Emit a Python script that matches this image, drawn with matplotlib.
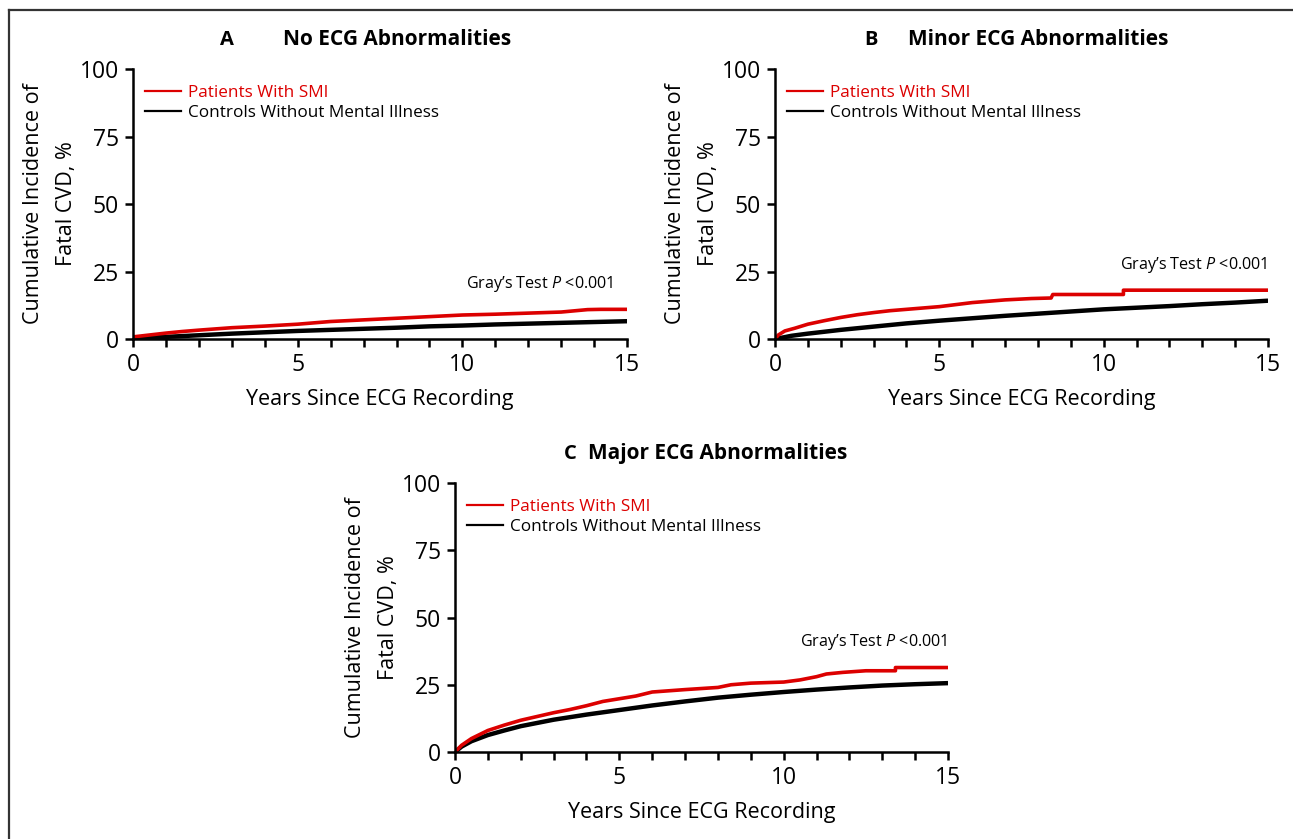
import matplotlib
matplotlib.use("Agg")
import matplotlib.pyplot as plt
from matplotlib.lines import Line2D

plt.rcParams.update({
    "font.family": ["Open Sans", "DejaVu Sans"],
    "mathtext.fontset": "custom",
    "mathtext.it": "Open Sans:italic",
    "mathtext.rm": "Open Sans",
})

RED = "#dc0000"
INK = "#000000"

# panel A: no ECG abnormalities  (years, cumulative incidence %)
a_smi_t = [0, 0.5, 1, 1.5, 2, 3, 4, 5, 6, 7, 8, 9, 10, 11, 12, 13, 13.8, 14.2, 15]
a_smi_y = [0.8, 1.5, 2.2, 2.8, 3.3, 4.2, 4.8, 5.5, 6.5, 7.1, 7.7, 8.3, 8.9, 9.2, 9.6, 10.0, 10.9, 11.0, 11.0]
a_ctl_t = [0, 1, 2, 3, 4, 5, 6, 7, 8, 9, 10, 11, 12, 13, 14, 15]
a_ctl_y = [0.3, 0.8, 1.4, 2.0, 2.5, 3.0, 3.4, 3.8, 4.2, 4.7, 5.0, 5.4, 5.7, 6.0, 6.3, 6.6]

# panel B: minor ECG abnormalities (repeated x = vertical jump)
b_smi_t = [0, 0.1, 0.3, 0.6, 1.0, 1.5, 2.0, 2.5, 3.0, 3.5, 4.0, 5.0, 6.0, 7.0, 7.8, 8.4, 8.45, 10.6, 10.6, 15]
b_smi_y = [0, 1.5, 3.0, 4.0, 5.5, 6.8, 8.0, 9.0, 9.8, 10.5, 11.0, 12.0, 13.5, 14.5, 15.0, 15.2, 16.5, 16.5, 18.1, 18.1]
b_ctl_t = [0, 0.5, 1, 2, 3, 4, 5, 6, 7, 8, 9, 10, 11, 12, 13, 14, 15]
b_ctl_y = [0, 1.2, 2.0, 3.4, 4.6, 5.8, 6.8, 7.7, 8.6, 9.4, 10.2, 11.0, 11.6, 12.2, 12.9, 13.5, 14.2]

# panel C: major ECG abnormalities
c_smi_t = [0, 0.2, 0.5, 1.0, 1.5, 2.0, 2.5, 3.0, 3.5, 4.0, 4.5, 5.0, 5.5, 6.0, 7.0, 8.0, 8.4, 9.0, 10.0,
           10.5, 11.0, 11.3, 11.8, 12.5, 13.4, 13.4, 15]
c_smi_y = [0, 2.5, 5.0, 8.0, 10.0, 11.8, 13.2, 14.6, 15.8, 17.2, 18.8, 19.8, 20.8, 22.3, 23.2, 24.0, 25.0, 25.6, 26.0,
           26.8, 28.0, 29.0, 29.6, 30.2, 30.2, 31.4, 31.4]
c_ctl_t = [0, 0.2, 0.5, 1, 1.5, 2, 3, 4, 5, 6, 7, 8, 9, 10, 11, 12, 13, 14, 15]
c_ctl_y = [0, 2.0, 4.0, 6.3, 8.0, 9.6, 12.0, 13.9, 15.6, 17.3, 18.8, 20.2, 21.3, 22.3, 23.2, 24.0, 24.7, 25.2, 25.6]

PANELS = [
    # (rect, letter, title, smi, ctl, p-text position, letter x, title x) -- x in figure px
    ([0.1029, 0.5959, 0.3821, 0.3218], "A", "No ECG Abnormalities",
     (a_smi_t, a_smi_y), (a_ctl_t, a_ctl_y), (14.6, 20.4), 227, 283),
    ([0.5994, 0.5959, 0.3813, 0.3218], "B", "Minor ECG Abnormalities",
     (b_smi_t, b_smi_y), (b_ctl_t, b_ctl_y), (15.0, 27.4), 871, 908),
    ([0.3519, 0.1037, 0.3813, 0.3206], "C", "Major ECG Abnormalities",
     (c_smi_t, c_smi_y), (c_ctl_t, c_ctl_y), (15.0, 41.0), 570, 588),
]

W, H = 1293, 839
fig = plt.figure(figsize=(W / 100, H / 100), dpi=100)

for rect, letter, title, smi, ctl, ptxt, lx, tx in PANELS:
    ax = fig.add_axes(rect)
    ax.plot(ctl[0], ctl[1], color=INK, lw=3.2, solid_capstyle="butt")
    ax.plot(smi[0], smi[1], color=RED, lw=2.6, solid_capstyle="butt")
    ax.set_xlim(0, 15)
    ax.set_ylim(0, 100)
    ax.set_xticks([0, 5, 10, 15])
    ax.set_xticks(range(16), minor=True)
    ax.set_yticks([0, 25, 50, 75, 100])
    for s in ("top", "right"):
        ax.spines[s].set_visible(False)
    for s in ("left", "bottom"):
        ax.spines[s].set_linewidth(1.8)
    ax.tick_params(axis="both", which="both", direction="out", width=1.8,
                   length=6, labelsize=16.5, pad=4)
    ax.set_xlabel("Years Since ECG Recording", fontsize=15.5, labelpad=9)
    ax.set_ylabel("Cumulative Incidence of\nFatal CVD, %", fontsize=15.5,
                  linespacing=1.75, labelpad=2)
    handles = [Line2D([], [], color=RED, lw=1.6), Line2D([], [], color=INK, lw=1.6)]
    leg = ax.legend(handles, ["Patients With SMI", "Controls Without Mental Illness"],
                    loc="upper left", bbox_to_anchor=(0.0, 0.985), frameon=False,
                    fontsize=12.3, handlelength=2.1, handletextpad=0.4,
                    labelspacing=0.22, borderaxespad=0.3)
    leg.get_texts()[0].set_color(RED)
    ax.text(ptxt[0], ptxt[1], "Gray\u2019s Test $\\mathit{P}$ <0.001", ha="right",
            va="center", fontsize=11.6)
    # panel heading: bold letter + title
    ty = rect[1] + rect[3] + 0.035
    fig.text(lx / W, ty, letter, fontsize=14.5, fontweight="bold", ha="center", va="center")
    fig.text(tx / W, ty, title, fontsize=15, fontweight="bold", ha="left", va="center")

# outer frame (top and left edges only)
fig.add_artist(Line2D([9 / W, 1], [1 - 10 / H, 1 - 10 / H], color="#333333", lw=1.6,
                      transform=fig.transFigure))
fig.add_artist(Line2D([9 / W, 9 / W], [0, 1 - 10 / H], color="#333333", lw=1.6,
                      transform=fig.transFigure))

fig.savefig("out.png", dpi=100)
